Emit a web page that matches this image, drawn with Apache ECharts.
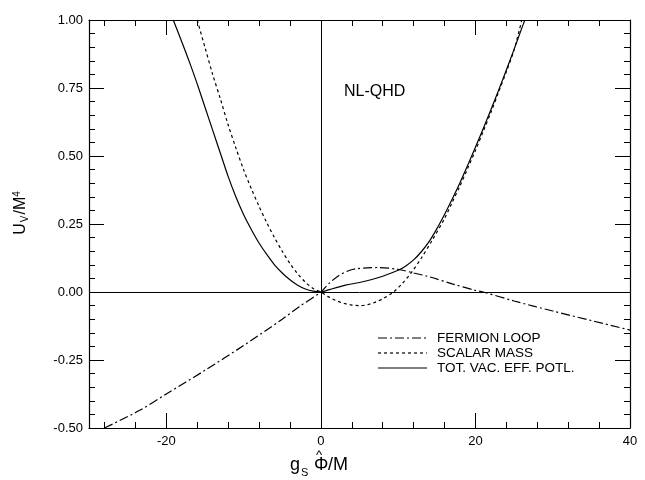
<!DOCTYPE html>
<html>
<head>
<meta charset="utf-8">
<script src="https://cdn.jsdelivr.net/npm/echarts@6/dist/echarts.min.js"></script>
<style>html,body{margin:0;padding:0;background:#fff;}#c{width:645px;height:480px;}</style>
</head>
<body>
<div id="c"></div>
<script>
// ---- data ----
const fermionX = [-28, -23.5, -20, -15, -10, -5, -2.8, 0, 1, 2.3, 3.5, 4.5, 6, 7.5, 10, 12, 14, 17, 20, 21, 25, 30, 35, 40];
const fermionY = [-0.5, -0.436, -0.375, -0.288, -0.197, -0.1, -0.054, 0, 0.03, 0.06, 0.077, 0.085, 0.089, 0.09, 0.083, 0.07, 0.056, 0.03, 0.006, 0, -0.033, -0.07, -0.105, -0.14];

const scalarX = [-16, -15, -14, -13, -12, -11, -10, -9, -8, -7, -6, -5, -4, -3, -2, -1, 0, 1, 2, 3, 4, 5, 6, 7, 8, 9, 9.4, 10.5, 11.8, 13, 14.4, 16, 17, 18, 19, 20, 21, 22, 23, 24, 25, 26];
const scalarY = [1.0, 0.9, 0.8, 0.71, 0.615, 0.53, 0.45, 0.38, 0.315, 0.255, 0.2, 0.15, 0.105, 0.067, 0.036, 0.013, 0, -0.018, -0.032, -0.042, -0.048, -0.05, -0.047, -0.038, -0.025, -0.008, 0, 0.03, 0.075, 0.125, 0.19, 0.27, 0.33, 0.39, 0.455, 0.52, 0.59, 0.66, 0.735, 0.81, 0.89, 1.0];

const totalX = [-19.1, -18, -17, -16, -15, -14, -13, -12, -11, -10, -9, -8, -7, -6, -5, -4, -3, -2, -1, 0, 1, 2, 3.2, 5, 6.6, 8, 10, 11, 12, 13, 14, 15, 16, 17, 18, 19, 20, 21, 22, 23, 24, 25, 26, 26.4];
const totalY = [1.0, 0.92, 0.845, 0.765, 0.68, 0.595, 0.51, 0.425, 0.35, 0.285, 0.23, 0.18, 0.138, 0.1, 0.07, 0.045, 0.025, 0.011, 0.003, 0, 0.008, 0.016, 0.025, 0.035, 0.046, 0.058, 0.08, 0.096, 0.118, 0.148, 0.185, 0.232, 0.285, 0.342, 0.402, 0.466, 0.532, 0.6, 0.67, 0.742, 0.816, 0.892, 0.97, 1.0];

const xMajor = [-20, 0, 20, 40];
const xMinor = [-28, -24, -16, -12, -8, -4, 4, 8, 12, 16, 24, 28, 32, 36];
const yMajor = [-0.5, -0.25, 0, 0.25, 0.5, 0.75, 1.0];
const yMinor = [-0.45, -0.4, -0.35, -0.3, -0.2, -0.15, -0.1, -0.05, 0.05, 0.1, 0.15, 0.2, 0.3, 0.35, 0.4, 0.45, 0.55, 0.6, 0.65, 0.7, 0.8, 0.85, 0.9, 0.95];

const seriesNames = ['FERMION LOOP', 'SCALAR MASS', 'TOT. VAC. EFF. POTL.'];
const panelLabel = 'NL-QHD';

function pairs(xs, ys) { return xs.map((x, i) => [x, ys[i]]); }

const FONT = '"Liberation Sans", Arial, Helvetica, sans-serif';
const black = '#000';
const lineW = 1.2;

function xAxisDef(pos, ticks, len, withLine, withLabels) {
  return {
    type: 'value', min: -30, max: 40, position: pos, gridIndex: 0,
    axisLine: { show: withLine, onZero: false, lineStyle: { color: black, width: lineW } },
    axisTick: { show: true, inside: true, length: len, customValues: ticks, lineStyle: { color: black, width: 1 } },
    axisLabel: withLabels ? { show: true, customValues: ticks, color: black, fontSize: 13, fontFamily: FONT, margin: 7 } : { show: false },
    splitLine: { show: false }
  };
}
function yAxisDef(pos, ticks, len, withLine, withLabels) {
  return {
    type: 'value', min: -0.5, max: 1.0, position: pos, gridIndex: 0,
    axisLine: { show: withLine, onZero: false, lineStyle: { color: black, width: lineW } },
    axisTick: { show: true, inside: true, length: len, customValues: ticks, lineStyle: { color: black, width: 1 } },
    axisLabel: withLabels ? { show: true, customValues: ticks, color: black, fontSize: 13, fontFamily: FONT, margin: 6,
      formatter: v => v.toFixed(2) } : { show: false },
    splitLine: { show: false }
  };
}

const chart = echarts.init(document.getElementById('c'), null, { renderer: 'canvas' });

const legendY = [338, 353, 368];
const dashes = [[9, 3, 2, 3], [3, 3], null];

const graphics = [
  { type: 'text', left: 344, top: 84, style: { text: panelLabel, font: '16px ' + FONT, fill: black } },
  // y axis title
  { type: 'text', x: 21, y: 213, rotation: Math.PI / 2,
    style: { text: '{a|U}{s|V}{a|/M}{p|4}', textAlign: 'center', textVerticalAlign: 'middle', fill: black,
      rich: { a: { fontSize: 16, fontFamily: FONT }, s: { fontSize: 10, fontFamily: FONT, verticalAlign: 'bottom', padding: [8, 1, 0, 1] }, p: { fontSize: 10, fontFamily: FONT, verticalAlign: 'top', padding: [0, 0, 6, 0] } } } },
  // x axis title
  { type: 'text', x: 290, y: 474, style: { text: 'g', font: '18px ' + FONT, fill: black, textVerticalAlign: 'bottom' } },
  { type: 'text', x: 301, y: 478, style: { text: 'S', font: '11px ' + FONT, fill: black, textVerticalAlign: 'bottom' } },
  { type: 'text', x: 314, y: 474, style: { text: 'Φ', font: '18px ' + FONT, fill: black, textVerticalAlign: 'bottom' } },
  { type: 'text', x: 316, y: 462, style: { text: '^', font: '13px ' + FONT, fill: black, textVerticalAlign: 'bottom' } },
  { type: 'text', x: 328, y: 474, style: { text: '/M', font: '18px ' + FONT, fill: black, textVerticalAlign: 'bottom' } }
];
seriesNames.forEach((nm, i) => {
  graphics.push({ type: 'line', shape: { x1: 378, y1: legendY[i], x2: 427, y2: legendY[i] },
    style: { stroke: black, lineWidth: lineW, lineDash: dashes[i] } });
  graphics.push({ type: 'text', x: 437, y: legendY[i], style: { text: nm, font: '13.5px ' + FONT, fill: black, textVerticalAlign: 'middle' } });
});

chart.setOption({
  backgroundColor: '#fff',
  animation: false,
  grid: { left: 89, right: 15, top: 20, bottom: 52, containLabel: false },
  xAxis: [
    xAxisDef('bottom', xMajor, 15, true, true),
    xAxisDef('bottom', xMinor, 6, false, false),
    xAxisDef('top', xMajor, 15, true, false),
    xAxisDef('top', xMinor, 6, false, false)
  ],
  yAxis: [
    yAxisDef('left', yMajor, 15, true, true),
    yAxisDef('left', yMinor, 6, false, false),
    yAxisDef('right', yMajor, 15, true, false),
    yAxisDef('right', yMinor, 6, false, false)
  ],
  series: [
    { name: seriesNames[0], type: 'line', data: pairs(fermionX, fermionY), smooth: 0.3, symbol: 'none',
      lineStyle: { color: black, width: lineW, type: dashes[0] } },
    { name: seriesNames[1], type: 'line', data: pairs(scalarX, scalarY), smooth: 0.3, symbol: 'none',
      lineStyle: { color: black, width: lineW, type: dashes[1] } },
    { name: seriesNames[2], type: 'line', data: pairs(totalX, totalY), smooth: 0.3, symbol: 'none',
      lineStyle: { color: black, width: lineW, type: 'solid' },
      markLine: { silent: true, symbol: 'none', label: { show: false },
        lineStyle: { color: black, width: 1, type: 'solid' },
        data: [{ xAxis: 0 }, { yAxis: 0 }] } }
  ],
  graphic: graphics
});
</script>
</body>
</html>
